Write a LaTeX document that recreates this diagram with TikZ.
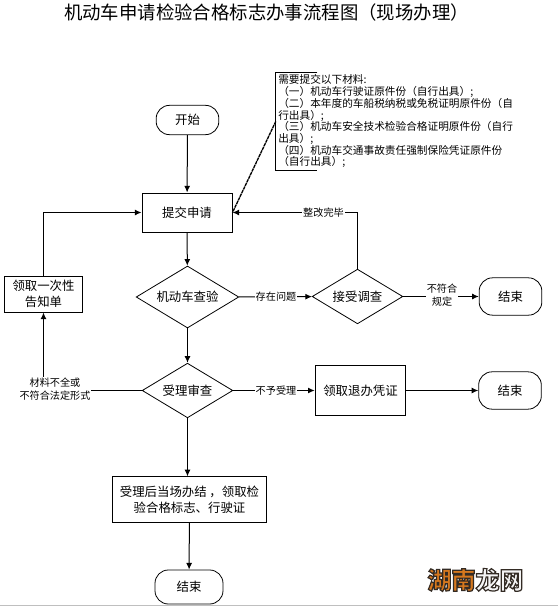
\documentclass[tikz,border=0pt]{standalone}
\usepackage{fontspec}
\usetikzlibrary{shapes.geometric,arrows.meta}
\newfontfamily\cjk{Noto Sans CJK SC}
\definecolor{markorange}{RGB}{214,120,30}
\definecolor{markgrey}{RGB}{245,245,245}
\newcommand{\markstroke}{\special{pdf:code 2 Tr 0.9 w 0.2 0.17 0.14 RG}}
\tikzset{
  x=0.75pt,y=-0.75pt,
  every node/.style={font=\cjk\fontsize{9.3pt}{12pt}\selectfont,inner sep=0pt,align=center},
  box/.style={draw,line width=0.75pt,rectangle},
  pill/.style={draw,line width=0.6pt,rounded corners=10pt,rectangle},
  dec/.style={draw,line width=0.6pt,diamond,aspect=1.65},
  lbl/.style={fill=white,font=\cjk\fontsize{7.6pt}{9.6pt}\selectfont,inner sep=0.6pt},
  link/.style={line width=0.75pt,-{Latex[length=5pt,width=4.5pt]}},
  plain/.style={line width=0.75pt}
}
\begin{document}
\begin{tikzpicture}
\useasboundingbox (0,0) rectangle (558,607);
\node (title) at (266.5,13) {\fontsize{13.8pt}{16pt}\selectfont 机动车申请检验合格标志办事流程图（现场办理）};

\node[pill,minimum width=47pt,minimum height=22pt] (start) at (187.5,120) {开始};
\node[box,minimum width=67.5pt,minimum height=29.25pt] (apply) at (187,212.5) {提交申请};
\node[dec,minimum width=77pt,minimum height=46.5pt] (check) at (187.5,297) {机动车查验};
\node[dec,minimum width=68pt,minimum height=41pt] (survey) at (357.5,296.5) {接受调查};
\node[pill,minimum width=47pt,minimum height=28pt] (endA) at (510.5,296.5) {结束};
\node[box,minimum width=58pt,minimum height=27pt] (notice) at (43.5,294) {领取一次性\\告知单};
\node[dec,minimum width=68pt,minimum height=41pt] (review) at (187.5,390.5) {受理审查};
\node[box,minimum width=68pt,minimum height=38pt] (refund) at (360.5,390.5) {领取退办凭证};
\node[pill,minimum width=47pt,minimum height=28pt] (endB) at (510,390.5) {结束};
\node[box,minimum width=116pt,minimum height=34pt] (done) at (189.5,499.5) {受理后当场办结 ，领取检\\验合格标志、行驶证};
\node[pill,minimum width=51pt,minimum height=25.5pt] (endC) at (189,587) {结束};

% open-sided frame of the list of documents; its text runs out past the frame
\node[minimum width=30.75pt,minimum height=72.75pt] (docs) at (296.5,121.5) {};
\draw[line width=0.75pt] (docs.north east) -- (docs.north west) -- (docs.south west) -- (docs.south east);
\node[anchor=north west,align=left,font=\cjk\fontsize{8pt}{8.8pt}\selectfont] (docstext) at (278,74.5) {需要提交以下材料:\\（一）机动车行驶证原件份（自行出具）;\\（二）本年度的车船税纳税或免税证明原件份（自\\行出具）;\\（三）机动车安全技术检验合格证明原件份（自行\\出具）;\\（四）机动车交通事故责任强制保险凭证原件份\\（自行出具）;};

\coordinate (nb) at (43.5,390.5);
\draw[link] (start) -- (apply);
\draw[link] (apply) -- (check);
\draw[link] (check) -- (review);
\draw[link] (review) -- (review |- done.north);
\draw[link] (done) -- (endC);
\draw[link] (check) -- (survey);
\draw[link] (survey) -- (endA);
\draw[link] (review) -- (refund);
\draw[link] (refund) -- (endB);
\draw[link] (survey.north) |- (apply.east);
\draw[plain] (review) -- (nb);
\draw[link] (nb) -- (notice);
\draw[link] (notice.north) |- (apply.west);
\draw[line width=1pt,dash pattern=on 2.5pt off 0.5pt] (docs.west) -- (apply.east);

\node[lbl] (lA) at (323.5,212.5) {整改完毕};
\node[lbl] (lB) at (276,296.5) {存在问题};
\node[lbl] (lC) at (442,295) {不符合\\规定};
\node[lbl] (lD) at (276,390.5) {不予受理};
\node[lbl] (lE) at (55,389) {材料不全或\\不符合法定形式};

\draw[gray!50,line width=0.6pt] (0,605.5) -- (558,605.5);
\node[font=\cjk\bfseries\fontsize{18pt}{20pt}\selectfont] (mark) at (475.5,580) {\textcolor{markorange}{\markstroke 湖南}\textcolor{markgrey}{\markstroke 龙网}\special{pdf:code 0 Tr}};
\end{tikzpicture}
\end{document}
